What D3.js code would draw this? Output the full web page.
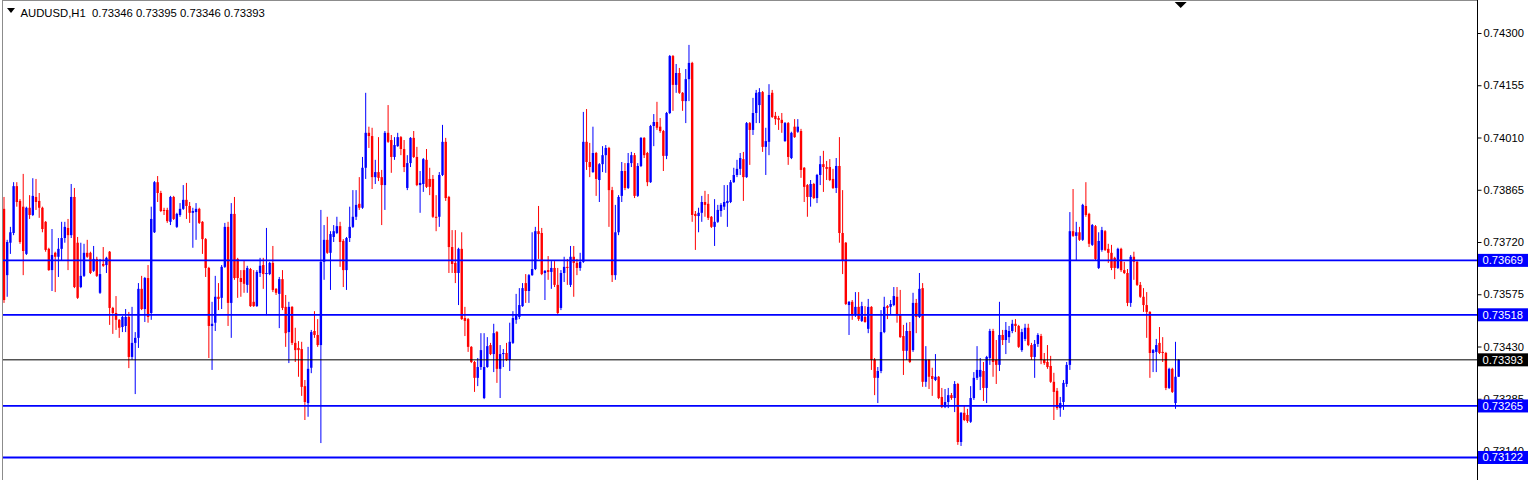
<!DOCTYPE html>
<html><head><meta charset="utf-8">
<script src="https://cdn.jsdelivr.net/npm/d3@7"></script>
<style>html,body{margin:0;padding:0;background:#fff;overflow:hidden}</style>
</head><body>
<svg id="c" width="1536" height="480"></svg>
<script>
const symbol = "AUDUSD,H1";
const open = [
0.73812,0.73628,0.73718,0.73745,0.73875,0.73834,0.73818,0.73687,0.73815,0.73795,
0.73845,0.73834,0.73815,0.73776,0.73701,0.73642,0.73690,0.73679,0.73701,0.73731,
0.73759,0.73739,0.73845,0.73718,0.73595,0.73626,0.73690,0.73690,0.73640,0.73673,
0.73579,0.73659,0.73656,0.73693,0.73537,0.73523,0.73504,0.73484,0.73487,0.73512,
0.73401,0.73440,0.73454,0.73590,0.73534,0.73620,0.73523,0.73747,0.73886,0.73856,
0.73809,0.73809,0.73776,0.73845,0.73762,0.73795,0.73812,0.73837,0.73820,0.73801,
0.73803,0.73812,0.73776,0.73728,0.73648,0.73487,0.73496,0.73568,0.73565,0.73651,
0.73762,0.73551,0.73798,0.73673,0.73620,0.73642,0.73601,0.73645,0.73554,0.73542,
0.73634,0.73656,0.73631,0.73631,0.73662,0.73590,0.73576,0.73617,0.73540,0.73470,
0.73540,0.73440,0.73426,0.73423,0.73320,0.73273,0.73371,0.73473,0.73462,0.73434,
0.73665,0.73726,0.73690,0.73734,0.73745,0.73764,0.73723,0.73642,0.73731,0.73762,
0.73790,0.73826,0.73815,0.73926,0.74023,0.74014,0.73900,0.73914,0.73900,0.73878,
0.74023,0.74003,0.73956,0.73986,0.74011,0.73978,0.73870,0.73939,0.74009,0.73956,
0.73878,0.73881,0.73948,0.73895,0.73895,0.73790,0.73790,0.73906,0.73998,0.73845,
0.73706,0.73662,0.73634,0.73701,0.73509,0.73506,0.73429,0.73387,0.73343,0.73373,
0.73287,0.73373,0.73434,0.73409,0.73470,0.73368,0.73409,0.73412,0.73393,0.73440,
0.73504,0.73512,0.73542,0.73606,0.73584,0.73628,0.73645,0.73750,0.73745,0.73634,
0.73642,0.73637,0.73648,0.73601,0.73537,0.73634,0.73651,0.73601,0.73679,0.73662,
0.73648,0.73665,0.73998,0.73942,0.73914,0.73967,0.73892,0.73936,0.73961,0.73981,
0.73864,0.73628,0.73747,0.73848,0.73917,0.73870,0.73939,0.73961,0.73848,0.73931,
0.74009,0.73967,0.73886,0.74042,0.74053,0.74040,0.74028,0.73959,0.74078,0.74236,
0.74156,0.74189,0.74134,0.74111,0.74172,0.74217,0.73798,0.73792,0.73801,0.73831,
0.73826,0.73790,0.73762,0.73776,0.73806,0.73818,0.73828,0.73831,0.73886,0.73906,
0.73923,0.73950,0.73900,0.74050,0.74031,0.74078,0.74100,0.74136,0.73984,0.73998,
0.74134,0.74070,0.74064,0.74059,0.74000,0.74050,0.73953,0.74040,0.74026,0.74028,
0.73926,0.73878,0.73845,0.73881,0.73842,0.73906,0.73936,0.73928,0.73928,0.73895,
0.73870,0.73931,0.73745,0.73718,0.73545,0.73554,0.73517,0.73540,0.73501,0.73512,
0.73479,0.73540,0.73393,0.73343,0.73362,0.73470,0.73542,0.73540,0.73545,0.73568,
0.73520,0.73459,0.73418,0.73473,0.73420,0.73551,0.73512,0.73592,0.73332,0.73393,
0.73348,0.73337,0.73346,0.73290,0.73262,0.73276,0.73295,0.73287,0.73326,0.73165,
0.73246,0.73240,0.73221,0.73287,0.73343,0.73346,0.73362,0.73315,0.73398,0.73473,
0.73393,0.73379,0.73462,0.73448,0.73456,0.73473,0.73493,0.73487,0.73420,0.73451,
0.73482,0.73434,0.73401,0.73437,0.73459,0.73393,0.73387,0.73376,0.73332,0.73307,
0.73259,0.73276,0.73326,0.73379,0.73750,0.73737,0.73747,0.73726,0.73820,0.73798,
0.73712,0.73764,0.73648,0.73698,0.73750,0.73701,0.73690,0.73676,0.73648,0.73701,
0.73642,0.73634,0.73551,0.73679,0.73665,0.73601,0.73568,0.73545,0.73526,0.73412,
0.73415,0.73440,0.73415,0.73412,0.73315,0.73368,0.73273,0.73346];
const high = [
0.73845,0.73726,0.73762,0.73886,0.73886,0.73839,0.73909,0.73818,0.73850,0.73897,
0.73895,0.73856,0.73818,0.73778,0.73704,0.73756,0.73693,0.73731,0.73776,0.73776,
0.73784,0.73881,0.73870,0.73734,0.73718,0.73715,0.73726,0.73693,0.73709,0.73679,
0.73673,0.73706,0.73679,0.73695,0.73540,0.73570,0.73506,0.73515,0.73534,0.73526,
0.73540,0.73470,0.73606,0.73626,0.73623,0.73656,0.73818,0.73889,0.73903,0.73862,
0.73815,0.73815,0.73848,0.73848,0.73801,0.73828,0.73878,0.73884,0.73831,0.73815,
0.73828,0.73815,0.73778,0.73731,0.73651,0.73554,0.73626,0.73606,0.73656,0.73773,
0.73776,0.73828,0.73845,0.73676,0.73642,0.73670,0.73654,0.73648,0.73642,0.73642,
0.73676,0.73676,0.73759,0.73665,0.73709,0.73592,0.73623,0.73642,0.73573,0.73554,
0.73542,0.73482,0.73445,0.73443,0.73337,0.73429,0.73476,0.73528,0.73506,0.73809,
0.73767,0.73790,0.73750,0.73767,0.73790,0.73776,0.73728,0.73734,0.73818,0.73864,
0.73864,0.73900,0.73956,0.74134,0.74040,0.74037,0.73948,0.74011,0.73920,0.74028,
0.74100,0.74017,0.74011,0.74023,0.74014,0.74003,0.73961,0.74011,0.74028,0.73984,
0.73917,0.73953,0.73978,0.73926,0.73906,0.73850,0.73914,0.74045,0.74009,0.73848,
0.73753,0.73753,0.73704,0.73747,0.73540,0.73509,0.73431,0.73390,0.73398,0.73467,
0.73467,0.73456,0.73440,0.73493,0.73473,0.73434,0.73423,0.73440,0.73496,0.73528,
0.73576,0.73592,0.73606,0.73631,0.73631,0.73747,0.73762,0.73820,0.73759,0.73642,
0.73681,0.73667,0.73667,0.73648,0.73642,0.73679,0.73673,0.73709,0.73709,0.73673,
0.73690,0.74081,0.74089,0.73995,0.74040,0.73970,0.73939,0.73986,0.73989,0.73984,
0.73873,0.73823,0.73850,0.73942,0.73939,0.73967,0.73970,0.73967,0.73939,0.74011,
0.74011,0.73970,0.74045,0.74075,0.74109,0.74064,0.74031,0.74081,0.74239,0.74239,
0.74214,0.74203,0.74136,0.74200,0.74267,0.74220,0.73806,0.73815,0.73848,0.73862,
0.73853,0.73792,0.73839,0.73823,0.73828,0.73878,0.73878,0.73892,0.73926,0.73948,
0.73967,0.73970,0.74053,0.74053,0.74120,0.74142,0.74147,0.74139,0.74037,0.74158,
0.74142,0.74081,0.74070,0.74078,0.74053,0.74053,0.74026,0.74061,0.74061,0.74034,
0.73928,0.73881,0.73892,0.73884,0.73909,0.73959,0.73973,0.73945,0.73950,0.73923,
0.73953,0.74011,0.73864,0.73720,0.73556,0.73559,0.73581,0.73581,0.73554,0.73542,
0.73562,0.73542,0.73398,0.73373,0.73531,0.73568,0.73545,0.73559,0.73595,0.73595,
0.73587,0.73490,0.73496,0.73498,0.73579,0.73562,0.73634,0.73606,0.73431,0.73395,
0.73371,0.73409,0.73348,0.73315,0.73312,0.73315,0.73301,0.73334,0.73329,0.73248,
0.73265,0.73257,0.73320,0.73359,0.73431,0.73398,0.73387,0.73404,0.73479,0.73479,
0.73448,0.73554,0.73476,0.73498,0.73487,0.73504,0.73506,0.73490,0.73479,0.73493,
0.73493,0.73440,0.73448,0.73467,0.73465,0.73412,0.73434,0.73404,0.73357,0.73315,
0.73290,0.73337,0.73387,0.73803,0.73867,0.73776,0.73762,0.73826,0.73886,0.73801,
0.73770,0.73767,0.73747,0.73762,0.73753,0.73715,0.73712,0.73679,0.73704,0.73704,
0.73665,0.73645,0.73684,0.73693,0.73670,0.73609,0.73592,0.73581,0.73528,0.73423,
0.73451,0.73484,0.73456,0.73415,0.73371,0.73371,0.73443,0.73395];
const low = [
0.73551,0.73568,0.73687,0.73739,0.73818,0.73715,0.73628,0.73684,0.73784,0.73792,
0.73809,0.73787,0.73747,0.73693,0.73640,0.73584,0.73581,0.73623,0.73670,0.73718,
0.73642,0.73731,0.73592,0.73562,0.73592,0.73623,0.73676,0.73631,0.73637,0.73623,
0.73576,0.73651,0.73634,0.73490,0.73465,0.73476,0.73454,0.73470,0.73470,0.73370,
0.73393,0.73298,0.73426,0.73531,0.73498,0.73496,0.73504,0.73745,0.73831,0.73803,
0.73795,0.73773,0.73767,0.73781,0.73759,0.73790,0.73809,0.73784,0.73773,0.73704,
0.73726,0.73770,0.73687,0.73623,0.73398,0.73365,0.73473,0.73531,0.73534,0.73648,
0.73487,0.73454,0.73615,0.73565,0.73568,0.73579,0.73579,0.73540,0.73540,0.73540,
0.73623,0.73590,0.73517,0.73628,0.73581,0.73573,0.73481,0.73531,0.73429,0.73384,
0.73434,0.73387,0.73346,0.73293,0.73226,0.73235,0.73356,0.73454,0.73429,0.73162,
0.73615,0.73687,0.73587,0.73720,0.73742,0.73651,0.73595,0.73587,0.73720,0.73759,
0.73781,0.73809,0.73812,0.73895,0.73981,0.73867,0.73881,0.73889,0.73767,0.73809,
0.73995,0.73912,0.73948,0.73984,0.73961,0.73914,0.73864,0.73928,0.73953,0.73875,
0.73801,0.73859,0.73870,0.73850,0.73787,0.73750,0.73762,0.73903,0.73834,0.73634,
0.73634,0.73606,0.73545,0.73504,0.73459,0.73415,0.73384,0.73304,0.73320,0.73365,
0.73284,0.73371,0.73406,0.73359,0.73329,0.73287,0.73373,0.73390,0.73362,0.73437,
0.73493,0.73506,0.73540,0.73551,0.73551,0.73626,0.73642,0.73673,0.73628,0.73559,
0.73615,0.73590,0.73595,0.73520,0.73531,0.73609,0.73601,0.73595,0.73568,0.73628,
0.73640,0.73662,0.73920,0.73900,0.73912,0.73848,0.73831,0.73914,0.73912,0.73762,
0.73609,0.73615,0.73739,0.73831,0.73864,0.73867,0.73928,0.73842,0.73845,0.73928,
0.73953,0.73875,0.73884,0.73986,0.74031,0.74023,0.73917,0.73950,0.74075,0.74084,
0.74134,0.74131,0.74084,0.74050,0.74111,0.73776,0.73698,0.73747,0.73776,0.73790,
0.73781,0.73759,0.73709,0.73773,0.73790,0.73809,0.73762,0.73828,0.73884,0.73900,
0.73906,0.73834,0.73898,0.73934,0.74017,0.74050,0.74050,0.73970,0.73906,0.73961,
0.74064,0.74045,0.74031,0.74023,0.73998,0.73934,0.73950,0.74009,0.74023,0.73898,
0.73831,0.73790,0.73818,0.73839,0.73828,0.73878,0.73859,0.73892,0.73889,0.73867,
0.73856,0.73718,0.73631,0.73545,0.73462,0.73504,0.73512,0.73501,0.73498,0.73496,
0.73467,0.73365,0.73295,0.73273,0.73356,0.73467,0.73506,0.73520,0.73542,0.73496,
0.73454,0.73351,0.73393,0.73384,0.73415,0.73467,0.73509,0.73318,0.73318,0.73312,
0.73293,0.73334,0.73284,0.73259,0.73259,0.73259,0.73282,0.73248,0.73157,0.73154,
0.73223,0.73218,0.73218,0.73282,0.73337,0.73309,0.73279,0.73273,0.73379,0.73346,
0.73326,0.73362,0.73434,0.73409,0.73440,0.73467,0.73470,0.73426,0.73415,0.73445,
0.73431,0.73393,0.73343,0.73429,0.73381,0.73379,0.73368,0.73329,0.73226,0.73254,
0.73235,0.73254,0.73318,0.73365,0.73734,0.73670,0.73723,0.73723,0.73790,0.73706,
0.73709,0.73670,0.73645,0.73693,0.73695,0.73662,0.73642,0.73617,0.73645,0.73637,
0.73631,0.73542,0.73540,0.73615,0.73598,0.73565,0.73526,0.73454,0.73343,0.73359,
0.73359,0.73409,0.73387,0.73309,0.73312,0.73301,0.73257,0.73346];
const close = [
0.73559,0.73720,0.73747,0.73875,0.73831,0.73720,0.73695,0.73815,0.73795,0.73848,
0.73831,0.73815,0.73756,0.73698,0.73642,0.73684,0.73679,0.73701,0.73731,0.73762,
0.73739,0.73845,0.73595,0.73565,0.73626,0.73690,0.73679,0.73634,0.73673,0.73626,
0.73631,0.73654,0.73676,0.73537,0.73523,0.73504,0.73482,0.73512,0.73512,0.73401,
0.73440,0.73454,0.73590,0.73534,0.73620,0.73512,0.73784,0.73886,0.73856,0.73806,
0.73806,0.73778,0.73845,0.73784,0.73798,0.73812,0.73837,0.73820,0.73801,0.73806,
0.73812,0.73773,0.73728,0.73648,0.73487,0.73493,0.73568,0.73562,0.73651,0.73762,
0.73551,0.73798,0.73620,0.73620,0.73609,0.73604,0.73648,0.73542,0.73542,0.73637,
0.73654,0.73631,0.73634,0.73662,0.73587,0.73579,0.73617,0.73537,0.73467,0.73540,
0.73440,0.73420,0.73420,0.73318,0.73276,0.73368,0.73470,0.73462,0.73434,0.73665,
0.73726,0.73690,0.73742,0.73750,0.73764,0.73720,0.73642,0.73731,0.73762,0.73790,
0.73823,0.73815,0.73926,0.74023,0.74014,0.73900,0.73914,0.73898,0.73878,0.74023,
0.73998,0.73956,0.73989,0.74011,0.73978,0.73928,0.73939,0.74009,0.73956,0.73878,
0.73884,0.73950,0.73873,0.73873,0.73790,0.73787,0.73906,0.73998,0.73842,0.73706,
0.73659,0.73634,0.73701,0.73506,0.73501,0.73429,0.73387,0.73343,0.73373,0.73420,
0.73373,0.73431,0.73409,0.73467,0.73368,0.73409,0.73412,0.73393,0.73443,0.73509,
0.73517,0.73545,0.73592,0.73584,0.73628,0.73645,0.73750,0.73742,0.73631,0.73640,
0.73637,0.73648,0.73601,0.73523,0.73634,0.73651,0.73648,0.73679,0.73662,0.73648,
0.73665,0.73998,0.73942,0.73928,0.73967,0.73895,0.73936,0.73961,0.73981,0.73864,
0.73628,0.73747,0.73845,0.73917,0.73870,0.73939,0.73961,0.73848,0.73931,0.74009,
0.73961,0.73886,0.74042,0.74053,0.74037,0.74028,0.73959,0.74078,0.74236,0.74156,
0.74189,0.74134,0.74111,0.74172,0.74217,0.73795,0.73792,0.73801,0.73831,0.73823,
0.73787,0.73762,0.73776,0.73809,0.73823,0.73831,0.73834,0.73886,0.73906,0.73923,
0.73953,0.73900,0.74050,0.74031,0.74078,0.74134,0.74136,0.73984,0.74000,0.74128,
0.74067,0.74061,0.74059,0.74050,0.74050,0.73956,0.74023,0.74011,0.74040,0.73920,
0.73873,0.73845,0.73881,0.73842,0.73906,0.73936,0.73928,0.73923,0.73892,0.73870,
0.73931,0.73745,0.73670,0.73548,0.73554,0.73517,0.73540,0.73506,0.73542,0.73498,
0.73540,0.73393,0.73343,0.73362,0.73470,0.73540,0.73537,0.73548,0.73570,0.73517,
0.73456,0.73418,0.73473,0.73387,0.73551,0.73512,0.73590,0.73332,0.73393,0.73346,
0.73340,0.73346,0.73287,0.73262,0.73276,0.73295,0.73287,0.73326,0.73165,0.73246,
0.73226,0.73223,0.73287,0.73343,0.73365,0.73365,0.73315,0.73401,0.73473,0.73387,
0.73379,0.73462,0.73448,0.73476,0.73473,0.73493,0.73487,0.73429,0.73470,0.73482,
0.73434,0.73401,0.73437,0.73462,0.73393,0.73384,0.73373,0.73332,0.73304,0.73259,
0.73273,0.73329,0.73379,0.73750,0.73737,0.73747,0.73726,0.73823,0.73795,0.73715,
0.73767,0.73673,0.73723,0.73753,0.73698,0.73690,0.73648,0.73648,0.73701,0.73642,
0.73634,0.73551,0.73679,0.73665,0.73601,0.73568,0.73545,0.73526,0.73412,0.73420,
0.73434,0.73412,0.73412,0.73315,0.73368,0.73304,0.73346,0.73393];

const priceTicks = [0.74300, 0.74155, 0.74010, 0.73865, 0.73720, 0.73575, 0.73430, 0.73285, 0.73140];
const levelLines = [0.73669, 0.73518, 0.73265, 0.73122];
const bidLine = 0.73393;

const svg = d3.select("#c");
const n = Math.min(open.length, high.length, low.length, close.length);
const idx = d3.range(n);
const fmt = d3.format(".5f");
const FONT = "'Liberation Sans', Arial, sans-serif";

const plotRight = 1477;
const x = d3.scalePoint().domain(idx).range([4, 1178.7]);
const y = d3.scaleLinear().domain([0.73140, 0.74300]).range([451, 33]);

// frame
svg.append("rect").attr("x",0).attr("y",0).attr("width",1536).attr("height",480).attr("fill","#fff");
svg.append("line").attr("x1",2.5).attr("x2",2.5).attr("y1",0).attr("y2",480).attr("stroke","#8c8c8c");
svg.append("line").attr("x1",2).attr("x2",plotRight).attr("y1",0.5).attr("y2",0.5).attr("stroke","#8c8c8c");

svg.append("clipPath").attr("id","plot").append("rect")
  .attr("x",3).attr("y",1).attr("width",plotRight-3).attr("height",479);
const g = svg.append("g").attr("clip-path","url(#plot)");

const col = i => close[i] >= open[i] ? "#0000ff" : "#ff0000";

// wicks
g.append("g").selectAll("line").data(idx).join("line")
  .attr("x1", i => x(i)).attr("x2", i => x(i))
  .attr("y1", i => y(high[i])).attr("y2", i => y(low[i]))
  .attr("stroke", col).attr("stroke-width", 1);

// bodies
const bw = 2.4;
g.append("g").selectAll("rect").data(idx).join("rect")
  .attr("x", i => x(i) - bw/2)
  .attr("y", i => y(Math.max(open[i], close[i])))
  .attr("width", bw)
  .attr("height", i => Math.max(1, y(Math.min(open[i], close[i])) - y(Math.max(open[i], close[i]))))
  .attr("fill", col);

// horizontal level lines
g.append("g").selectAll("line").data(levelLines).join("line")
  .attr("x1", 3).attr("x2", plotRight)
  .attr("y1", d => y(d)).attr("y2", d => y(d))
  .attr("stroke", "#0000ff").attr("stroke-width", 1.8);
g.append("line").attr("x1",3).attr("x2",plotRight).attr("y1",y(bidLine)).attr("y2",y(bidLine))
  .attr("stroke","#000").attr("stroke-width",1);

// right axis
svg.append("line").attr("x1",plotRight+0.5).attr("x2",plotRight+0.5).attr("y1",0).attr("y2",480).attr("stroke","#000");
const axis = d3.axisRight(y).tickValues(priceTicks).tickFormat(fmt).tickSize(4).tickPadding(2);
const gA = svg.append("g").attr("transform",`translate(${plotRight+0.5},0)`).call(axis);
gA.select(".domain").remove();
gA.selectAll(".tick line").attr("stroke","#000");
gA.selectAll(".tick text").attr("font-family",FONT).attr("font-size",11.2).attr("fill","#000");

// level labels (drawn over the axis ticks, as in the terminal)
const labels = levelLines.map(v => ({v, c:"#0000ff"})).concat([{v:bidLine, c:"#000"}]);
const lg = svg.append("g").selectAll("g").data(labels).join("g")
  .attr("transform", d => `translate(${plotRight+1},${y(d.v)})`);
lg.append("rect").attr("x",0).attr("y",-6.5).attr("width",50).attr("height",13).attr("fill", d => d.c);
lg.append("text").attr("x",4.5).attr("y",4).attr("font-family",FONT).attr("font-size",11.2)
  .attr("fill","#fff").text(d => fmt(d.v));

// header
svg.append("path").attr("d","M7,8 L15,8 L11,13 Z").attr("fill","#000");
const last = n - 1;
svg.append("text").attr("x",20.5).attr("y",16.5).attr("font-family",FONT).attr("font-size",11.3).attr("fill","#000")
  .attr("xml:space","preserve").style("white-space","pre")
  .text(`${symbol}  ${fmt(open[last])} ${fmt(high[last])} ${fmt(low[last])} ${fmt(close[last])}`);

// shift marker triangle at top
svg.append("path").attr("d", `M${x(last)-4},2 L${x(last)+8},2 L${x(last)+2},8 Z`).attr("fill","#000");
</script>
</body></html>
